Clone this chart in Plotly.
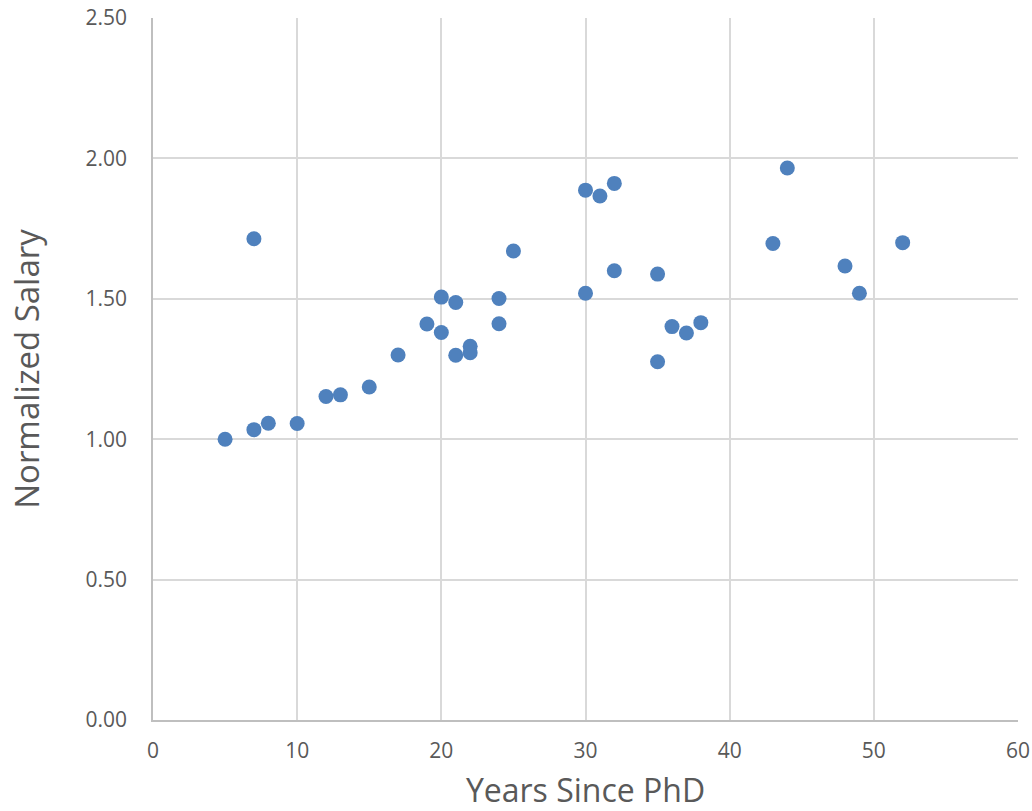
import plotly.graph_objects as go

years = [5, 7, 7, 8, 10, 12, 13, 15, 17, 19, 20, 20, 21, 21, 22, 22, 24, 24, 25,
         30, 30, 31, 32, 32, 35, 35, 36, 37, 38, 43, 44, 48, 49, 52]
salary = [1.00, 1.714, 1.034, 1.057, 1.056, 1.152, 1.158, 1.186, 1.300, 1.410,
          1.506, 1.380, 1.487, 1.299, 1.331, 1.308, 1.501, 1.411, 1.670,
          1.887, 1.520, 1.866, 1.911, 1.600, 1.588, 1.276, 1.401, 1.378, 1.415,
          1.697, 1.966, 1.617, 1.520, 1.700]

x_ticks = [0, 10, 20, 30, 40, 50, 60]
y_ticks = [0.0, 0.5, 1.0, 1.5, 2.0, 2.5]
y_tick_labels = ["0.00", "0.50", "1.00", "1.50", "2.00", "2.50"]

FONT = "Open Sans"
TICK_COLOR = "#595959"
GRID = "#D9D9D9"

fig = go.Figure()
fig.add_trace(go.Scatter(
    x=years, y=salary, mode="markers",
    marker=dict(size=15, color="#4F81BD", line=dict(width=0)),
    showlegend=False, cliponaxis=False,
))

fig.update_layout(
    width=1032, height=811,
    margin=dict(l=153, r=14, t=18, b=91),
    paper_bgcolor="white", plot_bgcolor="white",
    font=dict(family=FONT, color=TICK_COLOR),
    xaxis=dict(
        range=[0, 60], tickvals=x_ticks, ticktext=[str(v) for v in x_ticks],
        automargin=False,
        showgrid=True, gridcolor=GRID, gridwidth=1.5,
        showline=True, linecolor="#BFBFBF", linewidth=1.5,
        zeroline=False, ticks="", tickfont=dict(size=21, color=TICK_COLOR),
        ticklabelstandoff=11,
        title=dict(text="Years Since PhD", font=dict(size=32, color=TICK_COLOR), standoff=18),
    ),
    yaxis=dict(
        range=[0, 2.5], tickvals=y_ticks, ticktext=y_tick_labels,
        automargin=False,
        showgrid=True, gridcolor=GRID, gridwidth=1.5,
        showline=True, linecolor="#BFBFBF", linewidth=1.5,
        zeroline=False, ticks="", tickfont=dict(size=21, color=TICK_COLOR),
        ticklabelstandoff=20,
        title=dict(text="Normalized Salary", font=dict(size=33, color=TICK_COLOR), standoff=36),
    ),
)

fig.write_html(
    "out.html",
    config={"displayModeBar": False},
    post_script="document.body.style.margin='0';document.body.style.overflow='hidden';",
)
